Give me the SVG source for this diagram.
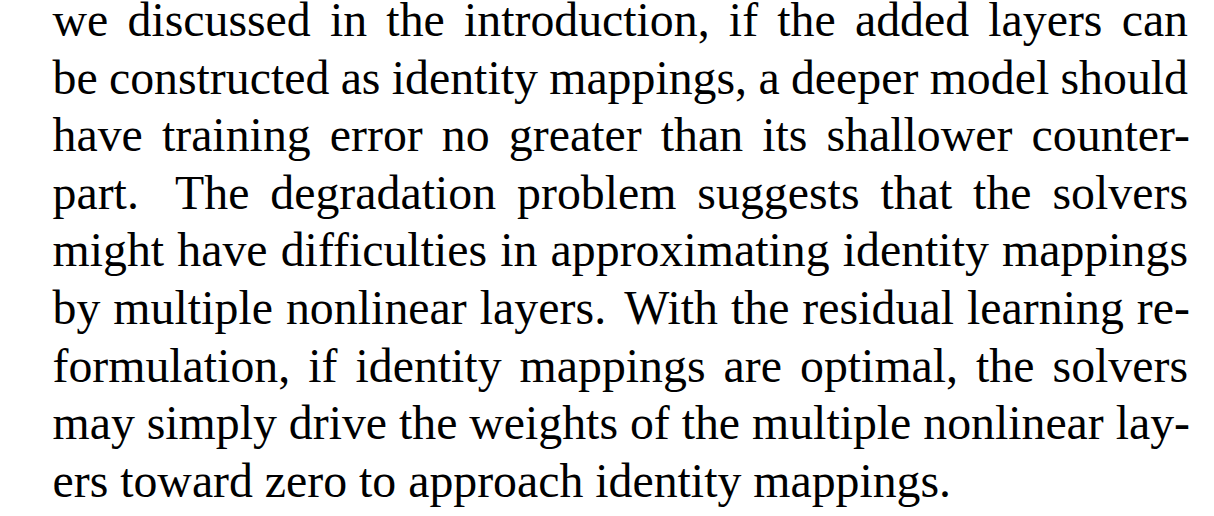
<svg xmlns="http://www.w3.org/2000/svg" width="1214" height="516" viewBox="0 0 1214 516">
<style>
.t{font-family:"Liberation Serif","Times New Roman",serif;font-size:47.8px;fill:#000;}
</style>
<rect x="0" y="0" width="1214" height="516" fill="#fff"/>
<g id="paragraph">
<text class="t" x="52.5" y="36" word-spacing="7.27" textLength="1135.5" lengthAdjust="spacing">we discussed in the introduction, if the added layers can</text>
<text class="t" x="52.5" y="93.6" word-spacing="-0.61" textLength="1135.5" lengthAdjust="spacing">be constructed as identity mappings, a deeper model should</text>
<text class="t" x="52.5" y="151.2" word-spacing="7.12" textLength="1137.5" lengthAdjust="spacing">have training error no greater than its shallower counter-</text>
<text class="t" x="52.5" y="208.8" word-spacing="8.95" textLength="1135.5" lengthAdjust="spacing">part. <tspan dx="16.1">The</tspan> degradation problem suggests that the solvers</text>
<text class="t" x="52.5" y="266.4" word-spacing="1.15" textLength="1135.5" lengthAdjust="spacing">might have difficulties in approximating identity mappings</text>
<text class="t" x="52.5" y="324" word-spacing="0.89" textLength="1137.5" lengthAdjust="spacing">by multiple nonlinear layers. <tspan dx="6">With</tspan> the residual learning re-</text>
<text class="t" x="52.5" y="381.6" word-spacing="6.11" textLength="1135.5" lengthAdjust="spacing">formulation, if identity mappings are optimal, the solvers</text>
<text class="t" x="52.5" y="439.2" word-spacing="0" textLength="1137.5" lengthAdjust="spacing">may simply drive the weights of the multiple nonlinear lay-</text>
<text class="t" x="52.5" y="496.8">ers toward zero to approach identity mappings.</text>
</g>
</svg>
